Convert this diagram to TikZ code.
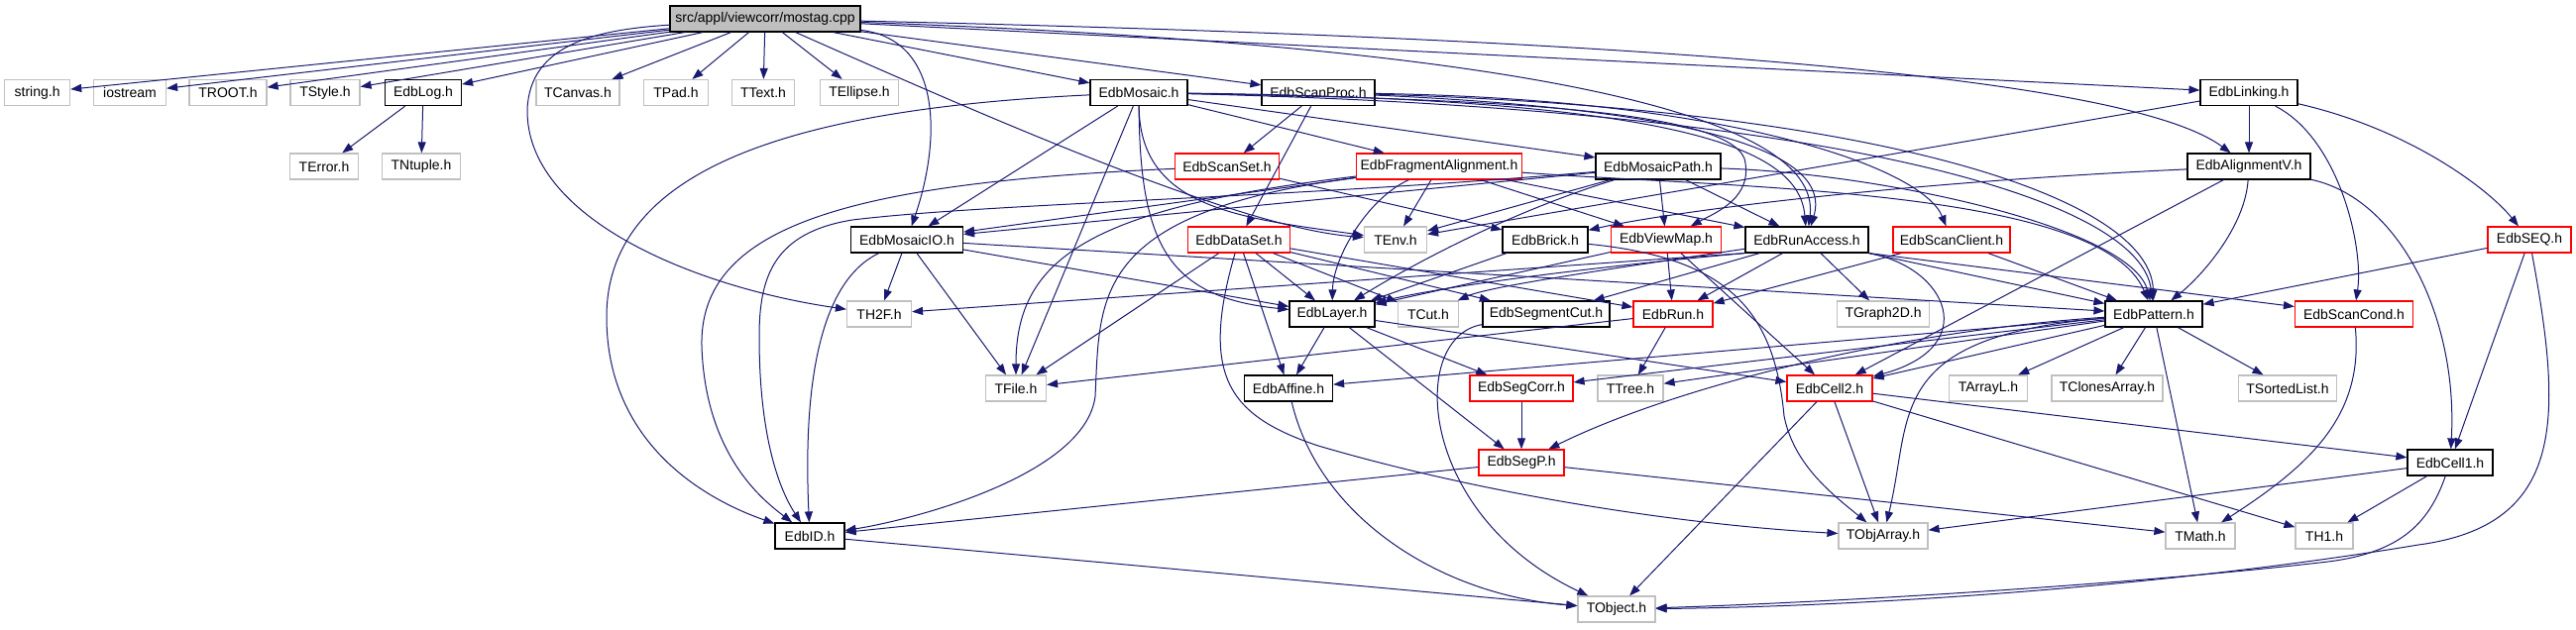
\documentclass[tikz,border=0pt]{standalone}
\usepackage{fontspec}
\setmainfont{Liberation Sans}
\usetikzlibrary{arrows.meta}

\definecolor{edgeblue}{HTML}{191970}
\definecolor{extgray}{HTML}{C0C0C0}
\definecolor{rootgray}{HTML}{BFBFBF}

\tikzset{
  hdr/.style={rectangle, draw=black, line width=1.2pt, minimum height=26pt, inner sep=0pt,
              font=\fontsize{14}{16}\selectfont},
  ext/.style={hdr, draw=extgray, line width=1.2pt},
  trunc/.style={hdr, draw=red, line width=1.2pt},
  dep/.style={draw=edgeblue, line width=1pt, -{Triangle[length=11pt,width=8pt]}},
}

\begin{document}
\begin{tikzpicture}[x=1pt,y=-1pt]
        \useasboundingbox (0,0) rectangle (2599,635);

        % Root file
        \node[hdr, fill=rootgray, minimum width=192pt] (mostag) at (772,19) {src/appl/viewcorr/mostag.cpp};

        % Row 1
        \node[ext, minimum width=66pt] (string) at (37.6,93.5) {string.h};
        \node[ext, minimum width=73pt] (iostream) at (131,93.5) {iostream};
        \node[ext, minimum width=78pt] (TROOT) at (230,93.5) {TROOT.h};
        \node[ext, minimum width=70pt] (TStyle) at (328,93.5) {TStyle.h};
        \node[hdr, minimum width=77pt] (EdbLog) at (427,93.5) {EdbLog.h};
        \node[ext, minimum width=84pt] (TCanvas) at (583,93.5) {TCanvas.h};
        \node[ext, minimum width=65pt] (TPad) at (682,93.5) {TPad.h};
        \node[ext, minimum width=63pt] (TText) at (770,93.5) {TText.h};
        \node[ext, minimum width=79pt] (TEllipse) at (867,93.5) {TEllipse.h};
        \node[hdr, minimum width=98pt] (EdbMosaic) at (1149,93.5) {EdbMosaic.h};
        \node[hdr, minimum width=114pt] (EdbScanProc) at (1330,93.5) {EdbScanProc.h};
        \node[hdr, minimum width=98pt] (EdbLinking) at (2269,93.5) {EdbLinking.h};

        % Row 2
        \node[ext, minimum width=69pt] (TError) at (327,168) {TError.h};
        \node[ext, minimum width=79pt] (TNtuple) at (425,168) {TNtuple.h};
        \node[trunc, minimum width=105pt] (EdbScanSet) at (1238,168) {EdbScanSet.h};
        \node[trunc, minimum width=167pt] (EdbFragmentAlignment) at (1452,168) {EdbFragmentAlignment.h};
        \node[hdr, minimum width=126pt] (EdbMosaicPath) at (1673,168) {EdbMosaicPath.h};
        \node[hdr, minimum width=124pt] (EdbAlignmentV) at (2269,168) {EdbAlignmentV.h};

        % Row 3
        \node[hdr, minimum width=113pt] (EdbMosaicIO) at (915,242) {EdbMosaicIO.h};
        \node[trunc, minimum width=103pt] (EdbDataSet) at (1250,242) {EdbDataSet.h};
        \node[ext, minimum width=63pt] (TEnv) at (1408,242) {TEnv.h};
        \node[hdr, minimum width=86pt] (EdbBrick) at (1559,242) {EdbBrick.h};
        \node[trunc, minimum width=111pt] (EdbViewMap) at (1681,242) {EdbViewMap.h};
        \node[hdr, minimum width=124pt] (EdbRunAccess) at (1823,242) {EdbRunAccess.h};
        \node[trunc, minimum width=118pt] (EdbScanClient) at (1969,242) {EdbScanClient.h};
        \node[trunc, minimum width=84pt] (EdbSEQ) at (2552,242) {EdbSEQ.h};

        % Row 4
        \node[ext, minimum width=65pt] (TH2F) at (887,317) {TH2F.h};
        \node[hdr, minimum width=86pt] (EdbLayer) at (1344,317) {EdbLayer.h};
        \node[ext, minimum width=61pt] (TCut) at (1441,317) {TCut.h};
        \node[hdr, minimum width=128pt] (EdbSegmentCut) at (1560,317) {EdbSegmentCut.h};
        \node[trunc, minimum width=80pt] (EdbRun) at (1688,317) {EdbRun.h};
        \node[ext, minimum width=93pt] (TGraph2D) at (1900,317) {TGraph2D.h};
        \node[hdr, minimum width=98pt] (EdbPattern) at (2173,317) {EdbPattern.h};
        \node[trunc, minimum width=119pt] (EdbScanCond) at (2375,317) {EdbScanCond.h};

        % Row 5
        \node[ext, minimum width=61pt] (TFile) at (1025,392) {TFile.h};
        \node[hdr, minimum width=89pt] (EdbAffine) at (1300,392) {EdbAffine.h};
        \node[trunc, minimum width=104pt] (EdbSegCorr) at (1535,392) {EdbSegCorr.h};
        \node[ext, minimum width=66pt] (TTree) at (1645,392) {TTree.h};
        \node[trunc, minimum width=86pt] (EdbCell2) at (1846,392) {EdbCell2.h};
        \node[ext, minimum width=79pt] (TArrayL) at (2006,392) {TArrayL.h};
        \node[ext, minimum width=112pt] (TClonesArray) at (2126,392) {TClonesArray.h};
        \node[ext, minimum width=99pt] (TSortedList) at (2308,392) {TSortedList.h};

        % Row 6
        \node[trunc, minimum width=86pt] (EdbSegP) at (1535,467) {EdbSegP.h};
        \node[hdr, minimum width=86pt] (EdbCell1) at (2472,467) {EdbCell1.h};

        % Row 7
        \node[hdr, minimum width=70pt] (EdbID) at (817,541) {EdbID.h};
        \node[ext, minimum width=90pt] (TObjArray) at (1900,541) {TObjArray.h};
        \node[ext, minimum width=70pt] (TMath) at (2220,541) {TMath.h};
        \node[ext, minimum width=58pt] (TH1) at (2345,541) {TH1.h};

        % Row 8
        \node[ext, minimum width=78pt] (TObject) at (1631,615) {TObject.h};

        % mostag.cpp
        \foreach \n in {string,iostream,TROOT,TStyle,EdbLog,TCanvas,TPad,TText,TEllipse,EdbMosaic,EdbScanProc,EdbLinking}
            \draw[dep] (mostag) -- (\n);
        \draw[dep] (mostag) .. controls (600,30) and (535,45) .. (532,110) .. controls (530,220) and (700,290) .. (TH2F);
        \draw[dep] (mostag) .. controls (950,40) and (950,140) .. (EdbMosaicIO);
        \draw[dep] (mostag) .. controls (1000,120) and (1250,230) .. (TEnv);
        \draw[dep] (mostag) .. controls (1500,45) and (1840,110) .. (EdbRunAccess);
        \draw[dep] (mostag) .. controls (1700,40) and (2150,80) .. (EdbAlignmentV);

        % EdbLog.h
        \foreach \n in {TError,TNtuple}
            \draw[dep] (EdbLog) -- (\n);

        % EdbMosaic.h
        \foreach \n in {EdbMosaicIO,TFile,EdbFragmentAlignment,EdbMosaicPath}
            \draw[dep] (EdbMosaic) -- (\n);
        \draw[dep] (EdbMosaic) .. controls (1150,250) and (1180,300) .. (EdbLayer);
        \draw[dep] (EdbMosaic) .. controls (1150,210) and (1250,220) .. (TEnv);
        \draw[dep] (EdbMosaic) .. controls (1500,100) and (1740,110) .. (1760,160) .. controls (1770,200) and (1730,215) .. (EdbViewMap);
        \draw[dep] (EdbMosaic) .. controls (1700,100) and (1815,150) .. (EdbRunAccess);
        \draw[dep] (EdbMosaic) .. controls (1850,110) and (2160,200) .. (EdbPattern);
        \draw[dep] (EdbMosaic) .. controls (800,110) and (612,170) .. (612,320) .. controls (612,440) and (700,500) .. (EdbID);

        % EdbScanProc.h
        \foreach \n in {EdbScanSet,EdbDataSet}
            \draw[dep] (EdbScanProc) -- (\n);
        \draw[dep] (EdbScanProc) .. controls (1700,110) and (1850,150) .. (EdbRunAccess);
        \draw[dep] (EdbScanProc) .. controls (1750,100) and (1940,170) .. (EdbScanClient);
        \draw[dep] (EdbScanProc) .. controls (1900,110) and (2170,200) .. (EdbPattern);

        % EdbLinking.h
        \foreach \n in {EdbAlignmentV,TEnv}
            \draw[dep] (EdbLinking) -- (\n);
        \draw[dep] (EdbLinking) .. controls (2360,140) and (2385,250) .. (EdbScanCond);
        \draw[dep] (EdbLinking) .. controls (2430,130) and (2510,190) .. (EdbSEQ);

        % EdbScanSet.h
        \draw[dep] (EdbScanSet) -- (EdbBrick);
        \draw[dep] (EdbScanSet) .. controls (850,185) and (705,230) .. (708,350) .. controls (712,460) and (770,505) .. (EdbID);

        % EdbFragmentAlignment.h
        \foreach \n in {EdbMosaicIO,TEnv,EdbViewMap,EdbRunAccess}
            \draw[dep] (EdbFragmentAlignment) -- (\n);
        \draw[dep] (EdbFragmentAlignment) .. controls (1380,200) and (1345,260) .. (EdbLayer);
        \draw[dep] (EdbFragmentAlignment) .. controls (1750,190) and (2120,190) .. (EdbPattern);
        \draw[dep] (EdbFragmentAlignment) .. controls (1100,210) and (1025,260) .. (TFile);
        \draw[dep] (EdbFragmentAlignment) .. controls (1100,215) and (1110,300) .. (1105,400) .. controls (1095,480) and (920,525) .. (EdbID);

        % EdbMosaicPath.h
        \foreach \n in {EdbMosaicIO,TEnv,EdbViewMap,EdbRunAccess}
            \draw[dep] (EdbMosaicPath) -- (\n);
        \draw[dep] (EdbMosaicPath) .. controls (1520,215) and (1420,270) .. (EdbLayer);
        \draw[dep] (EdbMosaicPath) .. controls (1900,175) and (2150,230) .. (EdbPattern);
        \draw[dep] (EdbMosaicPath) .. controls (1300,200) and (1000,205) .. (860,222) .. controls (780,235) and (766,280) .. (766,340) .. controls (766,450) and (790,500) .. (EdbID);

        % EdbAlignmentV.h
        \draw[dep] (EdbAlignmentV) -- (EdbCell2);
        \draw[dep] (EdbAlignmentV) .. controls (1900,185) and (1680,215) .. (EdbBrick);
        \draw[dep] (EdbAlignmentV) .. controls (2265,230) and (2220,280) .. (EdbPattern);
        \draw[dep] (EdbAlignmentV) .. controls (2420,200) and (2480,320) .. (EdbCell1);

        % EdbMosaicIO.h
        \foreach \n in {TH2F,EdbLayer,TFile,EdbPattern}
            \draw[dep] (EdbMosaicIO) -- (\n);
        \draw[dep] (EdbMosaicIO) .. controls (815,290) and (812,430) .. (EdbID);

        % EdbDataSet.h
        \foreach \n in {EdbLayer,TCut,EdbSegmentCut,EdbRun,TFile,EdbAffine}
            \draw[dep] (EdbDataSet) -- (\n);
        \draw[dep] (EdbDataSet) .. controls (1210,380) and (1240,420) .. (1330,450) .. controls (1500,500) and (1700,530) .. (TObjArray);

        % EdbBrick.h
        \draw[dep] (EdbBrick) -- (EdbLayer);
        \draw[dep] (EdbBrick) .. controls (1740,260) and (1790,310) .. (1800,420) .. controls (1810,470) and (1850,500) .. (TObjArray);

        % EdbViewMap.h
        \foreach \n in {EdbLayer,EdbRun,EdbCell2}
            \draw[dep] (EdbViewMap) -- (\n);

        % EdbRunAccess.h
        \foreach \n in {EdbSegmentCut,EdbRun,TGraph2D}
            \draw[dep] (EdbRunAccess) -- (\n);
        \draw[dep] (EdbRunAccess.south west) -- (TH2F);
        \draw[dep] (EdbRunAccess.south west) .. controls (1600,270) and (1450,290) .. (EdbLayer);
        \draw[dep] (EdbRunAccess) .. controls (1600,275) and (1500,290) .. (TCut);
        \draw[dep] (EdbRunAccess.south east) -- (EdbPattern);
        \draw[dep] (EdbRunAccess.south east) -- (EdbScanCond);
        \draw[dep] (EdbRunAccess.south east) .. controls (1965,270) and (2000,350) .. (EdbCell2);

        % EdbScanClient.h
        \foreach \n in {EdbRun,EdbPattern}
            \draw[dep] (EdbScanClient) -- (\n);

        % EdbSEQ.h
        \foreach \n in {EdbPattern,EdbCell1}
            \draw[dep] (EdbSEQ) -- (\n);
        \draw[dep] (EdbSEQ) .. controls (2585,420) and (2590,530) .. (2440,550) .. controls (2200,590) and (1900,612) .. (TObject);

        % EdbLayer.h
        \foreach \n in {EdbAffine,EdbSegCorr,EdbSegP,EdbCell2}
            \draw[dep] (EdbLayer) -- (\n);

        % EdbRun.h
        \foreach \n in {TFile,TTree}
            \draw[dep] (EdbRun) -- (\n);

        % EdbPattern.h
        \foreach \n in {EdbAffine,EdbSegCorr,TTree,EdbCell2,TArrayL,TClonesArray,TSortedList,TMath}
            \draw[dep] (EdbPattern) -- (\n);
        \draw[dep] (EdbPattern) .. controls (1900,335) and (1680,395) .. (EdbSegP);
        \draw[dep] (EdbPattern) .. controls (1900,340) and (1930,420) .. (TObjArray);

        % EdbSegCorr.h, EdbSegP.h
        \draw[dep] (EdbSegCorr) -- (EdbSegP);
        \foreach \n in {EdbID,TMath}
            \draw[dep] (EdbSegP) -- (\n);

        % EdbCell2.h, EdbCell1.h
        \foreach \n in {EdbCell1,TObjArray,TObject,TH1}
            \draw[dep] (EdbCell2) -- (\n);
        \foreach \n in {TObjArray,TH1}
            \draw[dep] (EdbCell1) -- (\n);
        \draw[dep] (EdbCell1) .. controls (2450,530) and (2420,560) .. (2340,568) .. controls (2150,590) and (1850,608) .. (TObject);

        % Leaves into TMath and TObject
        \draw[dep] (EdbScanCond) .. controls (2385,420) and (2330,470) .. (TMath);
        \draw[dep] (EdbID) -- (TObject);
        \draw[dep] (EdbAffine) .. controls (1330,520) and (1450,600) .. (TObject);
        \draw[dep] (EdbSegmentCut) .. controls (1420,340) and (1430,520) .. (TObject);
    \end{tikzpicture}
\end{document}
